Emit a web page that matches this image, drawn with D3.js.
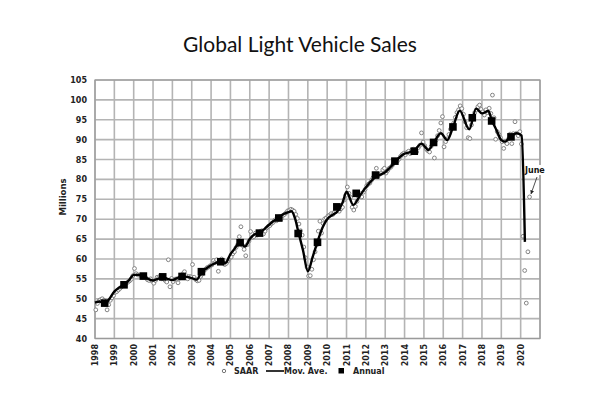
<!DOCTYPE html>
<html><head><meta charset="utf-8">
<script src="https://cdn.jsdelivr.net/npm/d3@7/dist/d3.min.js"></script>
<style>body{margin:0;background:#fff}svg{display:block}</style>
</head><body>
<svg id="c" width="600" height="400"></svg>
<script>
// ---- data ----
const years = d3.range(1998, 2021); // tick labels 1998..2020
const yTicks = [40,45,50,55,60,65,70,75,80,85,90,95,100,105];
// monthly SAAR (millions), by year
const saar1998 = [47.2,48.8,49.5,49.8,50.0,49.6,48.5,47.2,48.5,49.6,50.2,50.8];
const saar1999 = [51.6,51.8,52.2,52.6,53.0,53.3,53.8,53.9,54.2,54.5,54.9,55.8];
const saar2000 = [57.6,56.3,56.0,55.9,55.8,55.4,55.9,55.3,54.8,54.6,55.0,54.4];
const saar2001 = [53.9,54.6,55.4,55.3,55.8,55.0,55.6,54.6,54.2,59.8,53.0,55.1];
const saar2002 = [54.3,54.9,55.0,54.0,55.2,55.6,56.3,56.8,55.8,55.0,55.6,55.5];
const saar2003 = [58.6,55.4,54.8,54.5,54.6,55.6,56.2,57.0,57.4,57.8,58.0,58.3];
const saar2004 = [58.5,59.6,59.1,59.8,56.9,59.5,60.0,59.2,58.6,58.9,59.5,60.2];
const saar2005 = [60.5,61.3,61.8,62.9,63.6,65.6,68.1,63.4,62.4,60.8,63.6,64.5];
const saar2006 = [66.9,65.4,65.6,66.5,66.0,66.3,66.9,67.1,66.3,67.0,67.8,68.2];
const saar2007 = [68.4,68.9,69.2,69.8,69.6,70.4,70.6,70.1,70.9,71.2,71.6,72.1];
const saar2008 = [72.2,72.5,72.3,72.0,71.2,70.2,68.8,67.1,66.0,63.0,60.3,58.0];
const saar2009 = [55.7,55.8,57.4,59.8,61.8,63.5,67.0,69.5,66.5,68.9,70.1,70.3];
const saar2010 = [70.8,71.0,71.4,71.2,71.8,71.9,72.3,72.0,72.6,73.0,74.8,76.0];
const saar2011 = [78.1,76.5,75.5,73.0,72.3,73.2,74.5,75.6,76.4,75.6,76.8,77.5];
const saar2012 = [78.4,78.8,79.1,79.8,80.5,80.9,82.8,80.8,81.3,81.5,82.4,82.8];
const saar2013 = [81.6,82.2,82.8,83.1,83.6,84.3,84.5,84.6,85.1,85.8,86.3,86.6];
const saar2014 = [86.2,86.8,87.1,86.5,87.4,87.6,87.3,86.9,88.0,88.6,91.7,89.4];
const saar2015 = [88.5,87.6,87.2,86.9,88.3,89.5,85.4,89.8,91.0,92.3,94.2,95.8];
const saar2016 = [88.2,89.5,90.2,91.3,92.6,93.4,94.2,95.6,96.8,97.5,98.5,97.8];
const saar2017 = [96.4,94.5,93.0,90.5,90.3,93.7,95.5,96.8,97.5,98.3,98.7,97.6];
const saar2018 = [97.0,96.2,97.5,96.8,97.9,96.6,101.2,95.5,90.1,92.0,91.3,90.5];
const saar2019 = [89.5,87.8,89.5,89.0,90.2,91.4,89.0,91.5,94.5,91.6,91.0,92.0];
const saar2020 = [88.9,65.7,57.1,48.9,61.8,75.6];
const saarByYear = [saar1998,saar1999,saar2000,saar2001,saar2002,saar2003,saar2004,saar2005,
  saar2006,saar2007,saar2008,saar2009,saar2010,saar2011,saar2012,saar2013,saar2014,saar2015,
  saar2016,saar2017,saar2018,saar2019,saar2020];
// moving average (time in years, value)
const maTime = [1998.0,1998.25,1998.5,1998.75,1999.0,1999.25,1999.5,1999.75,2000.0,2000.25,2000.5,2000.75,
  2001.0,2001.25,2001.5,2001.75,2002.0,2002.25,2002.5,2002.75,2003.0,2003.25,2003.5,2003.75,
  2004.0,2004.25,2004.5,2004.75,2005.0,2005.25,2005.5,2005.75,2006.0,2006.25,2006.5,2006.75,
  2007.0,2007.25,2007.5,2007.75,2008.0,2008.15,2008.35,2008.5,2008.75,2009.0,2009.25,2009.5,2009.75,
  2010.0,2010.25,2010.5,2010.8,2011.0,2011.35,2011.7,2012.0,2012.5,2012.75,2013.0,2013.25,2013.5,2013.75,
  2014.0,2014.25,2014.5,2014.88,2015.23,2015.5,2015.88,2016.2,2016.5,2016.85,2017.34,2017.7,
  2018.0,2018.33,2018.5,2018.75,2019.0,2019.2,2019.45,2019.8,2020.05,2020.22];
const maValue = [49.0,49.3,48.6,50.0,51.8,52.8,53.5,54.6,56.0,56.0,55.6,55.0,
  54.6,55.0,55.5,55.0,54.7,55.2,55.7,55.5,55.2,54.8,56.6,57.6,
  58.4,59.0,59.4,59.0,61.2,62.8,64.3,63.1,65.0,66.2,66.6,67.5,
  68.6,69.6,70.4,71.3,71.8,72.0,70.0,67.0,62.2,56.9,60.5,64.3,67.8,
  70.0,71.0,71.8,74.2,76.9,73.6,76.0,78.0,80.6,81.2,81.8,83.0,84.2,85.6,
  86.5,86.8,87.3,89.0,87.4,89.2,91.6,89.9,93.1,97.3,92.6,97.8,
  96.6,97.2,95.0,92.4,89.9,89.5,90.7,91.6,91.0,64.3];
// annual totals
const annualYears = d3.range(1998, 2020);
const annualValues = [48.9,53.5,55.7,55.5,55.6,56.8,59.3,64.1,66.5,70.3,66.4,64.2,73.1,76.5,81.1,84.6,87.1,89.3,93.2,95.5,94.7,90.7];

// ---- chart ----
const svg = d3.select('#c');
const L = 95, R = 540, T = 80, B = 338.5;
const x = d3.scaleLinear().domain([1998, 2021]).range([L, R]);
const y = d3.scaleLinear().domain([40, 105]).range([B, T]);

svg.append('text').attr('x', 300).attr('y', 52).attr('text-anchor', 'middle')
  .attr('font-family', 'Lato, "Open Sans", sans-serif').attr('font-size', 21).attr('fill', '#111')
  .text('Global Light Vehicle Sales');

// grid
const g = svg.append('g');
g.selectAll('line.v').data(d3.range(1998, 2022)).join('line')
  .attr('x1', d => x(d)).attr('x2', d => x(d)).attr('y1', T).attr('y2', B)
  .attr('stroke', '#b4b4b4').attr('stroke-width', 1.6);
g.selectAll('line.h').data(yTicks).join('line')
  .attr('x1', L).attr('x2', R).attr('y1', d => y(d)).attr('y2', d => y(d))
  .attr('stroke', '#b4b4b4').attr('stroke-width', 1.6);
g.append('rect').attr('x', L).attr('y', T).attr('width', R - L).attr('height', B - T)
  .attr('fill', 'none').attr('stroke', '#9a9a9a').attr('stroke-width', 1.2);

// y axis labels
const lblFont = '"DejaVu Sans", Verdana, sans-serif';
svg.append('g').selectAll('text').data(yTicks).join('text')
  .attr('x', 87).attr('y', d => y(d) + 3).attr('text-anchor', 'end')
  .attr('font-family', lblFont).attr('font-weight', 'bold').attr('font-size', 8).attr('fill', '#222')
  .text(d => d);
// x axis labels
svg.append('g').selectAll('text').data(years).join('text')
  .attr('transform', d => `translate(${x(d) + 3},344) rotate(-90)`).attr('text-anchor', 'end')
  .attr('font-family', lblFont).attr('font-weight', 'bold').attr('font-size', 8).attr('fill', '#222')
  .text(d => d);
svg.append('text').attr('transform', 'translate(66,197) rotate(-90)').attr('text-anchor', 'middle')
  .attr('font-family', lblFont).attr('font-weight', 'bold').attr('font-size', 8.5).attr('fill', '#222')
  .text('Millions');

// SAAR points
const saarPts = [];
saarByYear.forEach((arr, i) => arr.forEach((v, m) => saarPts.push([1998 + i + (m + 0.5) / 12, v])));
svg.append('g').selectAll('circle').data(saarPts).join('circle')
  .attr('cx', d => x(d[0])).attr('cy', d => y(d[1])).attr('r', 1.9)
  .attr('fill', '#fff').attr('stroke', '#777').attr('stroke-width', 0.9);

// moving average
const maPts = maTime.map((t, i) => [t, maValue[i]]);
svg.append('path').datum(maPts)
  .attr('d', d3.line().x(d => x(d[0])).y(d => y(d[1])).curve(d3.curveMonotoneX))
  .attr('fill', 'none').attr('stroke', '#000').attr('stroke-width', 2.4);

// annual squares
svg.append('g').selectAll('rect').data(annualYears).join('rect')
  .attr('x', (d) => x(d + 0.5) - 3.8).attr('y', (d, i) => y(annualValues[i]) - 3.8)
  .attr('width', 7.6).attr('height', 7.6).attr('fill', '#000');

// June annotation
svg.append('defs').append('marker').attr('id', 'ah').attr('viewBox', '0 0 10 10')
  .attr('refX', 9).attr('refY', 5).attr('markerWidth', 5).attr('markerHeight', 5).attr('orient', 'auto')
  .append('path').attr('d', 'M0,0L10,5L0,10z').attr('fill', '#222');
const junePt = saarPts[saarPts.length - 1];
svg.append('rect').attr('x', 525).attr('y', 165).attr('width', 20).attr('height', 10).attr('fill', '#fff');
svg.append('text').attr('x', 525).attr('y', 173).attr('font-family', lblFont).attr('font-weight', 'bold')
  .attr('font-size', 8).attr('fill', '#111').text('June');
svg.append('line').attr('x1', 537).attr('y1', 177).attr('x2', x(junePt[0]) + 1.5).attr('y2', y(junePt[1]) - 3)
  .attr('stroke', '#222').attr('stroke-width', 0.8).attr('marker-end', 'url(#ah)');

// legend
const lg = svg.append('g').attr('font-family', lblFont).attr('font-weight', 'bold').attr('font-size', 8).attr('fill', '#222');
lg.append('circle').attr('cx', 224).attr('cy', 371).attr('r', 1.7).attr('fill', '#fff').attr('stroke', '#777');
lg.append('text').attr('x', 234).attr('y', 374).text('SAAR');
lg.append('line').attr('x1', 266).attr('x2', 284).attr('y1', 371).attr('y2', 371).attr('stroke', '#000').attr('stroke-width', 1.6);
lg.append('text').attr('x', 284).attr('y', 374).text('Mov. Ave.');
lg.append('rect').attr('x', 338.5).attr('y', 368).attr('width', 5.5).attr('height', 5.5).attr('fill', '#000');
lg.append('text').attr('x', 353).attr('y', 374).text('Annual');
</script>
</body></html>
